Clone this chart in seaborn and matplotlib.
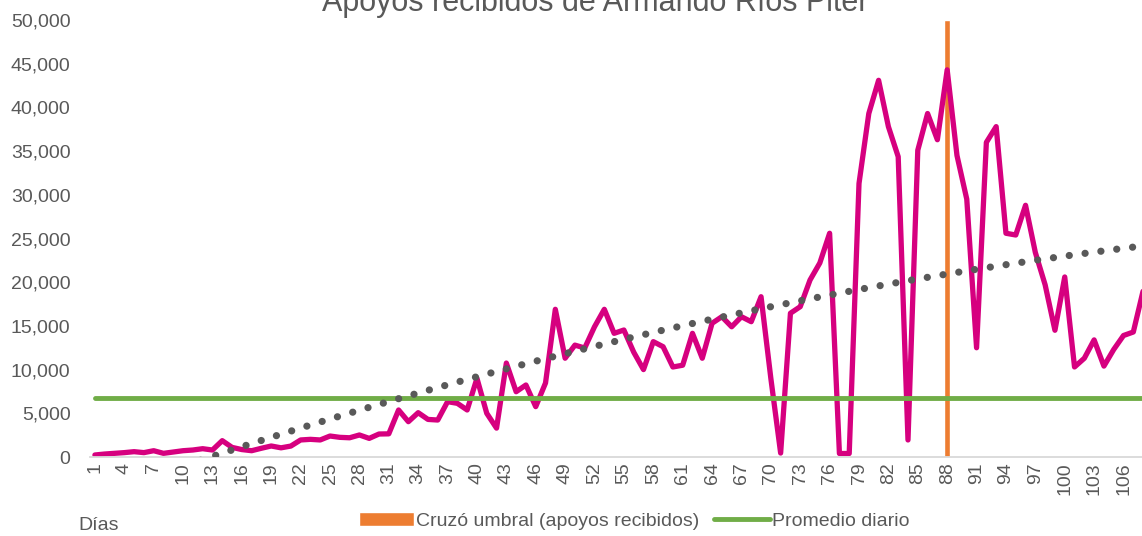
import numpy as np
import pandas as pd
import matplotlib
matplotlib.use('Agg')
import matplotlib.pyplot as plt
import seaborn as sns

# datos
dias = list(range(1, 109))
apoyos = [230, 340, 420, 500, 610, 500, 720, 420, 570, 720,
          800, 950, 800, 1870, 1100, 850, 720, 1000, 1260, 1050,
          1250, 1950, 2020, 1950, 2400, 2250, 2200, 2520, 2130, 2630,
          2650, 5380, 4040, 5070, 4300, 4230, 6330, 6140, 5380, 9000,
          5000, 3300, 10750, 7470, 8240, 5760, 8470, 16900, 11300, 12800,
          12470, 14900, 16900, 14150, 14530, 12000, 10000, 13200, 12620, 10300,
          10500, 14150, 11300, 15300, 16050, 14900, 16050, 15480, 18340, 9000,
          450, 16450, 17200, 20250, 22200, 25600, 400, 400, 31300, 39300,
          43100, 37800, 34360, 1950, 35100, 39300, 36300, 44300, 34500, 29500,
          12500, 36000, 37800, 25600, 25400, 28800, 23400, 19700, 14500, 20600,
          10300, 11300, 13400, 10400, 12300, 13900, 14300, 19000]
promedio_diario = 6800
cruce_dia = [88]
cruce_valor = [50000]
y_ticks = list(range(0, 50001, 5000))
x_ticks = dias[::3]

sns.set_style('white')
plt.rcParams['font.family'] = ['Liberation Sans', 'DejaVu Sans']

df = pd.DataFrame({'dia': dias, 'apoyos': apoyos})
df['promedio'] = promedio_diario
# linea de tendencia polinomica (orden 2), como en Excel
coef = np.polyfit(df['dia'], df['apoyos'], 2)
df['tendencia'] = np.polyval(coef, df['dia'])

gris = '#595959'
fig = plt.figure(figsize=(11.42, 5.36), dpi=100)
ax = fig.add_axes([90 / 1142, 79 / 536, 1058 / 1142, 437 / 536])

barras = ax.bar(cruce_dia, cruce_valor, width=0.62, color='#ED7D31', zorder=1)
sns.lineplot(data=df, x='dia', y='apoyos', color='#D6007F', linewidth=3.8,
             solid_joinstyle='round', ax=ax, zorder=2)
sns.lineplot(data=df, x='dia', y='promedio', color='#70AD47', linewidth=3.5, ax=ax, zorder=3)
linea_prom = ax.lines[-1]
sns.lineplot(data=df, x='dia', y='tendencia', color=gris, linewidth=5.2,
             linestyle=(0, (0.01, 2.2)), dash_capstyle='round', ax=ax, zorder=4)

ax.set_xlim(0.5, 108.5)
ax.set_ylim(0, 50000)
ax.set_xticks(x_ticks)
ax.set_xticklabels([str(d) for d in x_ticks], rotation=90)
ax.set_yticks(y_ticks)
ax.set_yticklabels([f'{v:,}' for v in y_ticks])
ax.tick_params(axis='both', length=0, colors=gris, labelsize=14)
ax.tick_params(axis='y', pad=14)
ax.tick_params(axis='x', pad=4)
ax.set_xlabel('')
ax.set_ylabel('')
for lado in ['left', 'right', 'top']:
    ax.spines[lado].set_visible(False)
ax.spines['bottom'].set_color('#D9D9D9')
ax.spines['bottom'].set_linewidth(1.3)

fig.text(595 / 1142, 1 - 11 / 536, 'Apoyos recibidos de Armando Ríos Piter',
         ha='center', va='baseline', fontsize=22, color=gris)
fig.text(78 / 1142, 1 - 530 / 536, 'Días', ha='left', va='baseline', fontsize=14, color=gris)

fig.legend(handles=[barras, linea_prom],
           labels=['Cruzó umbral (apoyos recibidos)', 'Promedio diario'],
           loc='center', bbox_to_anchor=(634 / 1142, 1 - 521 / 536), ncol=2,
           frameon=False, fontsize=14, labelcolor=gris, handlelength=2.85,
           handleheight=0.72, handletextpad=0.1, columnspacing=0.77,
           borderpad=0, borderaxespad=0)

fig.savefig('out.png', dpi=100)
